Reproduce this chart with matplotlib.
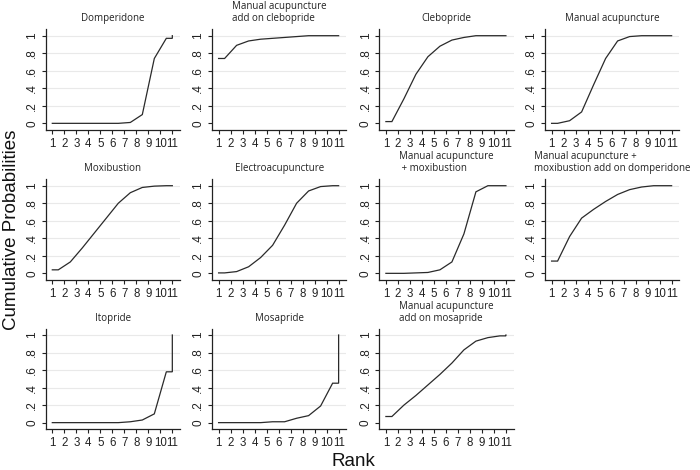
import numpy as np
import matplotlib
matplotlib.use("Agg")
import matplotlib.pyplot as plt

# ---- data: cumulative ranking probabilities for ranks 1..11 ----
ranks = list(range(1, 12))
rank_labels = [str(r) for r in ranks]
ytick_vals = [0, 0.2, 0.4, 0.6, 0.8, 1.0]
ytick_labels = ["0", ".2", ".4", ".6", ".8", "1"]

titles = [
    "Domperidone",
    "Manual acupuncture\nadd on clebopride",
    "Clebopride",
    "Manual acupuncture",
    "Moxibustion",
    "Electroacupuncture",
    "Manual acupuncture\n + moxibustion",
    "Manual acupuncture +\nmoxibustion add on domperidone",
    "Itopride",
    "Mosapride",
    "Manual acupuncture\nadd on mosapride",
]

domperidone = [0, 0, 0, 0, 0, 0, 0.01, 0.10, 0.74, 0.97, 1.0]
ma_clebopride = [0.74, 0.89, 0.94, 0.96, 0.97, 0.98, 0.99, 1.0, 1.0, 1.0, 1.0]
clebopride = [0.02, 0.28, 0.56, 0.76, 0.88, 0.95, 0.98, 1.0, 1.0, 1.0, 1.0]
manual_acu = [0.0, 0.03, 0.13, 0.44, 0.74, 0.94, 0.99, 1.0, 1.0, 1.0, 1.0]
moxibustion = [0.04, 0.13, 0.29, 0.46, 0.63, 0.80, 0.92, 0.98, 0.995, 1.0, 1.0]
electroacu = [0.005, 0.02, 0.075, 0.18, 0.32, 0.55, 0.80, 0.94, 0.99, 1.0, 1.0]
ma_moxi = [0.0, 0.0, 0.005, 0.01, 0.04, 0.13, 0.45, 0.93, 1.0, 1.0, 1.0]
ma_moxi_domp = [0.14, 0.42, 0.63, 0.73, 0.82, 0.90, 0.955, 0.985, 1.0, 1.0, 1.0]
itopride = [0, 0, 0, 0, 0, 0, 0.01, 0.03, 0.10, 0.58, 1.0]
mosapride = [0, 0, 0, 0, 0.01, 0.01, 0.05, 0.08, 0.19, 0.45, 1.0]
ma_mosapride = [0.07, 0.20, 0.31, 0.43, 0.55, 0.68, 0.83, 0.93, 0.97, 0.99, 1.0]

series = [domperidone, ma_clebopride, clebopride, manual_acu, moxibustion,
          electroacu, ma_moxi, ma_moxi_domp, itopride, mosapride, ma_mosapride]

# ---- figure ----
W, H = 700, 470
fig = plt.figure(figsize=(W / 100, H / 100), dpi=100)

col_left = [45.7, 212.0, 379.3, 545.0]
row_bottom = [130.0, 280.0, 429.3]
ax_w, ax_h = 134.3, 100.7

tick_font = ["Liberation Sans", "DejaVu Sans"]
title_font = ["Open Sans", "DejaVu Sans"]
line_color = "#2a2a2a"

r = np.array(ranks, dtype=float)
for i, (title, vals) in enumerate(zip(titles, series)):
    row, col = divmod(i, 4)
    left = col_left[col] / W
    bottom = 1 - row_bottom[row] / H
    ax = fig.add_axes([left, bottom, ax_w / W, ax_h / H])
    v = np.array(vals, dtype=float)
    xs = np.concatenate([[r[0]], r[:-1] + 0.5, [r[-1], r[-1]]])
    ys = np.concatenate([[v[0]], v[:-1], [v[-2], v[-1]]])
    ax.plot(xs, ys, color=line_color, lw=0.9, solid_joinstyle="miter")
    ax.set_xlim(0.45, 11.64)
    ax.set_ylim(-0.076, 1.073)
    ax.set_xticks(ranks)
    ax.set_xticklabels(rank_labels, family=tick_font, fontsize=8.3)
    ax.set_yticks(ytick_vals)
    ax.set_yticklabels(ytick_labels, family=tick_font, fontsize=8.5,
                       rotation=90, va="center")
    for yv in ytick_vals[1:]:
        ax.axhline(yv, color="#e9e9e9", lw=0.8, zorder=0)
    for s in ("top", "right"):
        ax.spines[s].set_visible(False)
    for s in ("left", "bottom"):
        ax.spines[s].set_color("#222222")
        ax.spines[s].set_linewidth(0.9)
    ax.tick_params(direction="out", length=3, width=0.8, color="#222222",
                   pad=2.5, labelcolor="#222222")
    ax.text(0.5, 1.0 + 5.0 / ax_h, title, transform=ax.transAxes,
            ha="center", va="bottom", multialignment="left",
            family=title_font, fontsize=7, color="#222222", linespacing=1.12)

fig.text(12 / W, 1 - 230 / H, "Cumulative Probabilities", rotation=90,
         ha="center", va="center", family=["Liberation Sans", "DejaVu Sans"],
         fontsize=13.5, color="#111111")
fig.text(353 / W, 1 - 462 / H, "Rank", ha="center", va="center",
         family=["Liberation Sans", "DejaVu Sans"], fontsize=13.5,
         color="#111111")

fig.savefig("out.png", dpi=100, facecolor="white")
